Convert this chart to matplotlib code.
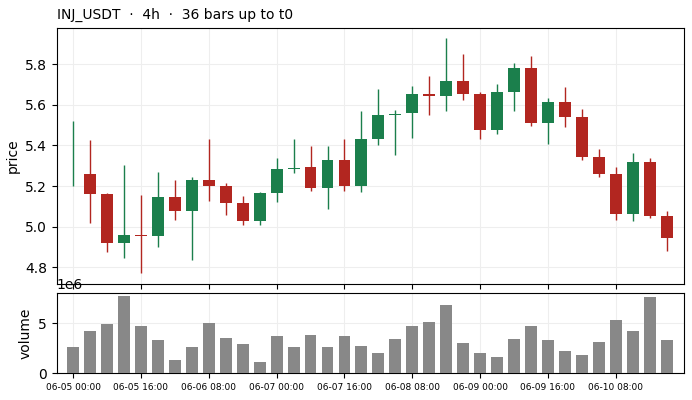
import matplotlib
matplotlib.use("Agg")
import matplotlib.pyplot as plt
import numpy as np

opens = [5.200, 5.260, 5.161, 4.921, 4.960, 4.956, 5.146, 5.079, 5.230, 5.200,
         5.117, 5.030, 5.166, 5.284, 5.294, 5.192, 5.329, 5.202, 5.433, 5.550,
         5.562, 5.652, 5.645, 5.718, 5.654, 5.478, 5.665, 5.782, 5.512, 5.614,
         5.540, 5.343, 5.260, 5.064, 5.319, 5.053]
highs = [5.519, 5.426, 5.165, 5.302, 5.156, 5.268, 5.229, 5.245, 5.431, 5.217,
         5.151, 5.171, 5.338, 5.432, 5.396, 5.396, 5.432, 5.570, 5.677, 5.573,
         5.692, 5.742, 5.930, 5.851, 5.664, 5.703, 5.805, 5.839, 5.633, 5.687,
         5.578, 5.381, 5.293, 5.362, 5.338, 5.076]
lows = [5.200, 5.017, 4.874, 4.844, 4.770, 4.901, 5.032, 4.834, 5.125, 5.056,
        5.007, 5.007, 5.120, 5.263, 5.174, 5.086, 5.174, 5.169, 5.401, 5.352,
        5.435, 5.549, 5.570, 5.623, 5.431, 5.455, 5.568, 5.498, 5.406, 5.490,
        5.327, 5.243, 5.032, 5.027, 5.041, 4.879]
closes = [5.200, 5.161, 4.921, 4.959, 4.955, 5.146, 5.079, 5.230, 5.202, 5.118,
          5.030, 5.166, 5.284, 5.290, 5.192, 5.329, 5.202, 5.432, 5.550, 5.556,
          5.654, 5.645, 5.718, 5.655, 5.478, 5.664, 5.782, 5.512, 5.614, 5.542,
          5.345, 5.261, 5.064, 5.319, 5.054, 4.946]
volumes = [2.63, 4.23, 4.93, 7.73, 4.73, 3.33, 1.33, 2.63, 5.03, 3.53,
           2.93, 1.13, 3.73, 2.63, 3.83, 2.63, 3.73, 2.73, 2.03, 3.43,
           4.73, 5.13, 6.83, 3.03, 2.03, 1.63, 3.43, 4.73, 3.33, 2.23,
           1.83, 3.13, 5.33, 4.23, 7.63, 3.33]
volumes = [v * 1e6 for v in volumes]
tick_labels = ["06-05 00:00", "06-05 16:00", "06-06 08:00", "06-07 00:00",
               "06-07 16:00", "06-08 08:00", "06-09 00:00", "06-09 16:00",
               "06-10 08:00"]
title = "INJ_USDT  ·  4h  ·  36 bars up to t0"

UP = "#1b7f4c"
DOWN = "#b22620"
GRID = "#eeeeee"

o = np.array(opens); h = np.array(highs); l = np.array(lows); c = np.array(closes)
x = np.arange(len(o))
cols = [UP if cc >= oo else DOWN for oo, cc in zip(o, c)]

fig = plt.figure(figsize=(6.92, 4.0), dpi=100)
ax = fig.add_axes([0.0819, 0.29, 0.907, 0.6408])
axv = fig.add_axes([0.0819, 0.0668, 0.907, 0.2], sharex=ax)

ax.vlines(x, l, h, colors=cols, linewidth=1.0, zorder=2)
ax.bar(x, c - o, bottom=o, width=0.7, color=cols, linewidth=0, zorder=3)

r = h.max() - l.min()
ax.set_ylim(l.min() - 0.045 * r, h.max() + 0.043 * r)
ax.set_xlim(-0.97, len(o) - 1 + 1.04)
ax.set_ylabel("price", fontsize=10)
ax.set_title(title, loc="left", fontsize=10, pad=6)
ax.grid(True, color=GRID, linewidth=0.8, zorder=0)
ax.set_axisbelow(True)
ax.tick_params(labelbottom=False)

axv.bar(x, volumes, width=0.7, color="#888888", zorder=3)
axv.set_ylim(0, 8.0e6)
axv.set_ylabel("volume", fontsize=10)
axv.grid(True, color=GRID, linewidth=0.8, zorder=0)
axv.set_axisbelow(True)
tick_pos = x[::4][:len(tick_labels)]
axv.set_xticks(tick_pos)
axv.set_xticklabels(tick_labels, fontsize=6.5)
axv.set_yticks([0, 5e6])

fig.savefig("out.png", dpi=100)
